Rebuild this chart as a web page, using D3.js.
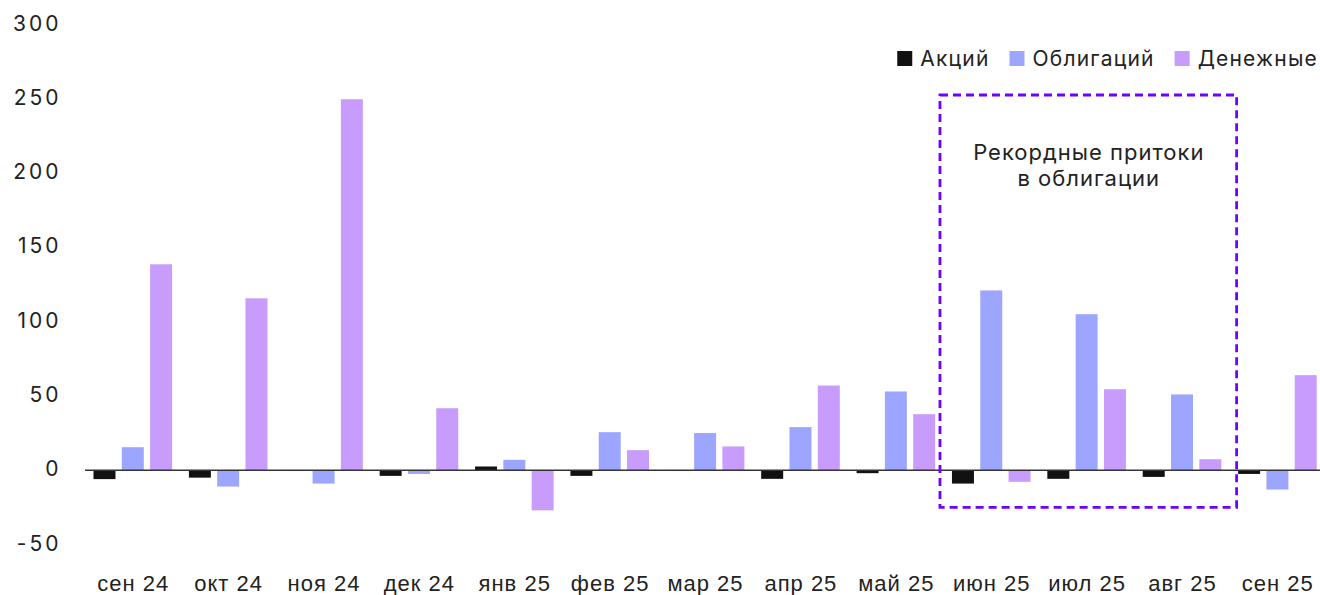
<!DOCTYPE html>
<html>
<head>
<meta charset="utf-8">
<script src="https://cdn.jsdelivr.net/npm/d3@7"></script>
<style>
  html, body { margin: 0; padding: 0; background: #fff; }
  svg { display: block; font-family: "Inter", "Noto Sans", sans-serif; }
</style>
</head>
<body>
<svg id="chart" width="1320" height="595"></svg>
<script>
// Monthly flows by fund type
const months = ["сен 24", "окт 24", "ноя 24", "дек 24", "янв 25", "фев 25", "мар 25",
                "апр 25", "май 25", "июн 25", "июл 25", "авг 25", "сен 25"];
const seriesNames = ["Акций", "Облигаций", "Денежные"];
const equity = [-6, -5, -0.5, -3.8, 2.5, -3.8, -0.5, -5.8, -2, -9, -5.8, -4.5, -2.5];
const bonds  = [15.5, -11, -9, -2.5, 7, 25.6, 25, 29, 53, 121, 105, 51, -13];
const money  = [138.6, 115.7, 249.7, 41.7, -27, 13.5, 16, 57, 37.7, -7.8, 54.5, 7.4, 64];
const yTicks = [-50, 0, 50, 100, 150, 200, 250, 300];
const colors = ["#111111", "#9da6ff", "#c89cfd"];
const highlightMonths = ["июн 25", "авг 25"];
const noteLines = ["Рекордные притоки", "в облигации"];

const svg = d3.select("#chart");
const series = [equity, bonds, money];

const x = d3.scaleBand().domain(months).range([85, 1325]).paddingInner(0).paddingOuter(0);
const xInner = d3.scaleBand().domain(seriesNames).range([8.5, x.bandwidth() - 8.3]).paddingInner(0.223);
const y = d3.scaleLinear().domain([-50, 300]).range([544.5, 24.5]);

// Y tick labels (no axis line)
svg.append("g").selectAll("text").data(yTicks).join("text")
  .attr("x", 61.5).attr("y", d => y(d) - 1.5).attr("dy", "0.36em")
  .attr("text-anchor", "end").attr("font-size", 21).attr("letter-spacing", 3)
  .attr("fill", "#222")
  .text(d => d);

// Bars
const groups = svg.append("g").selectAll("g").data(months).join("g")
  .attr("transform", d => `translate(${x(d)},0)`);
groups.selectAll("rect").data((m, i) => seriesNames.map((s, k) => ({ s, k, v: series[k][i] })))
  .join("rect")
  .attr("x", d => xInner(d.s))
  .attr("width", xInner.bandwidth())
  .attr("y", d => y(Math.max(0, d.v)))
  .attr("height", d => Math.max(0.8, Math.abs(y(d.v) - y(0))))
  .attr("fill", d => colors[d.k]);

// Zero line
svg.append("line")
  .attr("x1", 85).attr("x2", 1320).attr("y1", y(0)).attr("y2", y(0))
  .attr("stroke", "#333").attr("stroke-width", 1.5);

// X axis labels
svg.append("g").selectAll("text").data(months).join("text")
  .attr("x", d => x(d) + x.bandwidth() / 2 + 0.5).attr("y", 591)
  .attr("text-anchor", "middle").attr("font-size", 22).attr("letter-spacing", 1)
  .attr("fill", "#222")
  .attr("font-family", "'Liberation Sans', Arial, sans-serif")
  .text(d => d);

// Highlight box around record bond inflows
const bx0 = x(highlightMonths[0]) - 3.5;
const bx1 = x(highlightMonths[1]) + x.bandwidth() + 7;
svg.append("rect")
  .attr("x", bx0).attr("y", 95).attr("width", bx1 - bx0).attr("height", y(-25) - 95)
  .attr("fill", "none").attr("stroke", "#7000ff").attr("stroke-width", 2.8)
  .attr("stroke-dasharray", "8,5");

svg.append("g").selectAll("text").data(noteLines).join("text")
  .attr("x", (bx0 + bx1) / 2 + 0.5).attr("y", (d, i) => 160 + i * 26)
  .attr("text-anchor", "middle").attr("font-size", 22).attr("letter-spacing", 1)
  .attr("fill", "#222")
  .text(d => d);

// Legend, laid out right to left from the right edge
const legend = svg.append("g");
const items = legend.selectAll("g").data(seriesNames).join("g");
items.append("rect").attr("y", 51).attr("width", 15).attr("height", 15)
  .attr("fill", (d, i) => colors[i]);
items.append("text").attr("y", 58.5).attr("dy", "0.36em")
  .attr("font-size", 21).attr("letter-spacing", 1.2).attr("fill", "#222").text(d => d);
let right = 1318;
items.nodes().reverse().forEach(node => {
  const g = d3.select(node);
  const w = g.select("text").node().getComputedTextLength();
  const textX = right - w;
  g.select("text").attr("x", textX);
  g.select("rect").attr("x", textX - 23);
  right = textX - 23 - 20;
});
</script>
</body>
</html>
